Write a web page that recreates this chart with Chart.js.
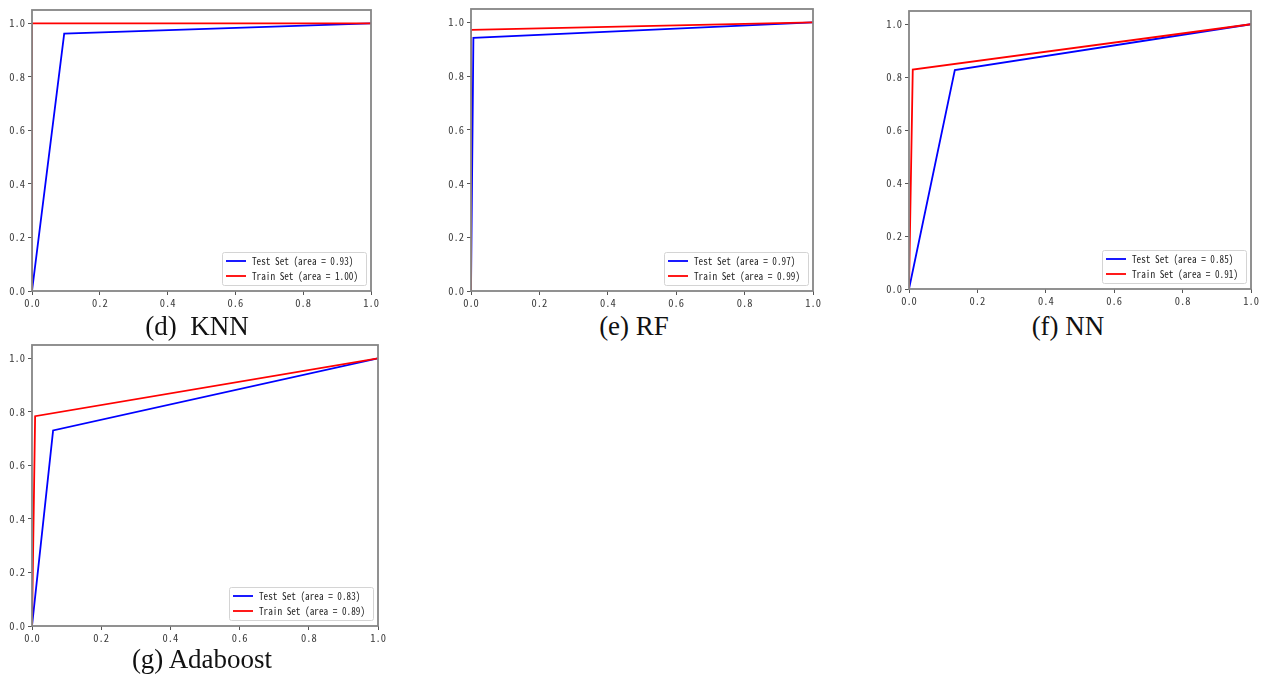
<!DOCTYPE html>
<html>
<head>
<meta charset="utf-8">
<script src="https://cdn.jsdelivr.net/npm/chart.js@4.4.1/dist/chart.umd.min.js"></script>
<style>
  body { margin: 0; background: #fff; width: 1263px; height: 680px; position: relative; overflow: hidden; }
  .panel { position: absolute; }
  .caption { position: absolute; font-family: "Liberation Serif", "Times New Roman", serif; font-size: 27px; line-height: 30px; color: #111; white-space: pre; transform: translateX(-50%); }
</style>
</head>
<body>
<div class="panel" style="left:0px;top:0px;width:381px;height:311px"><canvas id="roc-knn"></canvas></div>
<div class="panel" style="left:439px;top:-1px;width:384px;height:312px"><canvas id="roc-rf"></canvas></div>
<div class="panel" style="left:877px;top:1px;width:384px;height:308px"><canvas id="roc-nn"></canvas></div>
<div class="panel" style="left:0px;top:335px;width:388px;height:311px"><canvas id="roc-ada"></canvas></div>

<div class="caption" style="left:197px;top:311px">(d)  KNN</div>
<div class="caption" style="left:634px;top:311px">(e) RF</div>
<div class="caption" style="left:1068px;top:311px">(f) NN</div>
<div class="caption" style="left:202px;top:644px">(g) Adaboost</div>

<script>
// ----- data (fpr on x, tpr on y) -----
const tickValues = [0, 0.2, 0.4, 0.6, 0.8, 1.0];
const seriesNames = ["Test Set", "Train Set"];

const knnTestFpr = [0, 0.095, 1];
const knnTestTpr = [0, 0.962, 1];
const knnTrainFpr = [0, 0, 1];
const knnTrainTpr = [0, 1, 1];
const knnArea = [0.93, 1.00];

const rfTestFpr = [0, 0.007, 1];
const rfTestTpr = [0, 0.943, 1];
const rfTrainFpr = [0, 0, 1];
const rfTrainTpr = [0, 0.972, 1];
const rfArea = [0.97, 0.99];

const nnTestFpr = [0, 0.134, 1];
const nnTestTpr = [0, 0.827, 1];
const nnTrainFpr = [0, 0.011, 1];
const nnTrainTpr = [0, 0.829, 1];
const nnArea = [0.85, 0.91];

const adaTestFpr = [0, 0.061, 1];
const adaTestTpr = [0, 0.731, 1];
const adaTrainFpr = [0, 0.009, 1];
const adaTrainTpr = [0, 0.784, 1];
const adaArea = [0.83, 0.89];

const monoFont = '"Noto Sans Mono CJK SC", "DejaVu Sans Mono", monospace';

// frame around the plot like matplotlib spines (drawn over the lines)
const framePlugin = {
  id: 'frame',
  afterDatasetsDraw(chart) {
    const a = chart.chartArea, c = chart.ctx;
    c.save();
    c.strokeStyle = '#858585';
    c.lineWidth = 1.8;
    c.strokeRect(a.left, a.top, a.right - a.left, a.bottom - a.top);
    c.restore();
  }
};

// legend box in the lower right corner of the plot
const cornerLegend = {
  id: 'cornerLegend',
  afterDraw(chart) {
    const c = chart.ctx, a = chart.chartArea;
    const sets = chart.data.datasets;
    const textW = 106, w = 144, h = 33;
    const x = a.right - 5 - w, y = a.bottom - 6 - h;
    c.save();
    c.font = '10.5px ' + monoFont;
    c.fillStyle = 'rgba(255,255,255,0.85)';
    c.strokeStyle = '#d4d4d4';
    c.lineWidth = 1;
    c.beginPath();
    c.roundRect(x + 0.5, y + 0.5, w, h, 2);
    c.fill();
    c.stroke();
    sets.forEach((ds, i) => {
      const ly = y + 9 + i * 15;
      c.strokeStyle = ds.borderColor;
      c.lineWidth = 1.8;
      c.beginPath();
      c.moveTo(x + 4, ly);
      c.lineTo(x + 24, ly);
      c.stroke();
      c.fillStyle = '#222';
      c.textBaseline = 'middle';
      const full = c.measureText(ds.label).width;
      c.fillText(ds.label, x + 30, ly, Math.min(full, textW * full / c.measureText(sets[1].label).width));
    });
    c.restore();
  }
};

function toPoints(xs, ys) {
  return xs.map((v, i) => ({ x: v, y: ys[i] }));
}

function makeRoc(id, testFpr, testTpr, trainFpr, trainTpr, area) {
  const ctx = document.getElementById(id);
  return new Chart(ctx, {
    type: 'scatter',
    data: {
      datasets: [{
        label: `${seriesNames[0]} (area = ${area[0].toFixed(2)})`,
        data: toPoints(testFpr, testTpr),
        borderColor: '#0000ff',
        order: 1
      }, {
        label: `${seriesNames[1]} (area = ${area[1].toFixed(2)})`,
        data: toPoints(trainFpr, trainTpr),
        borderColor: '#ff0000',
        order: 0
      }].map(ds => Object.assign(ds, { showLine: true, borderWidth: 1.8, pointRadius: 0, fill: false, tension: 0 }))
    },
    options: {
      responsive: true,
      maintainAspectRatio: false,
      animation: false,
      layout: { padding: { top: 10, right: 10, left: 0, bottom: 0 } },
      plugins: { legend: { display: false }, tooltip: { enabled: false } },
      scales: {
        x: {
          type: 'linear', min: 0, max: 1,
          afterBuildTicks: s => { s.ticks = tickValues.map(v => ({ value: v })); },
          afterFit: s => { s.height = 20; },
          grid: { drawOnChartArea: false, drawTicks: true, tickLength: 4, color: '#555' },
          border: { display: false },
          ticks: { color: '#3a3a3a', padding: 2, maxRotation: 0, font: { family: monoFont, size: 10.5 }, callback: v => v.toFixed(1) }
        },
        y: {
          type: 'linear', min: 0, max: 1.05,
          afterBuildTicks: s => { s.ticks = tickValues.map(v => ({ value: v })); },
          afterFit: s => { s.width = 32; },
          grid: { drawOnChartArea: false, drawTicks: true, tickLength: 4, color: '#555' },
          border: { display: false },
          ticks: { color: '#3a3a3a', padding: 3, font: { family: monoFont, size: 10.5 }, callback: v => v.toFixed(1) }
        }
      }
    },
    plugins: [framePlugin, cornerLegend]
  });
}

makeRoc('roc-knn', knnTestFpr, knnTestTpr, knnTrainFpr, knnTrainTpr, knnArea);
makeRoc('roc-rf', rfTestFpr, rfTestTpr, rfTrainFpr, rfTrainTpr, rfArea);
makeRoc('roc-nn', nnTestFpr, nnTestTpr, nnTrainFpr, nnTrainTpr, nnArea);
makeRoc('roc-ada', adaTestFpr, adaTestTpr, adaTrainFpr, adaTrainTpr, adaArea);
</script>
</body>
</html>
